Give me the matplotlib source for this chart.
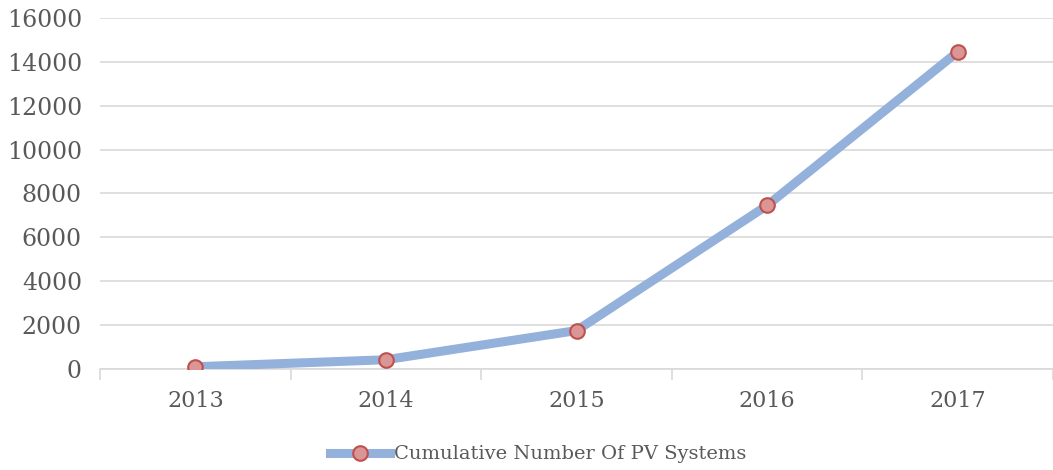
import matplotlib.pyplot as plt
from matplotlib.lines import Line2D

years = ["2013", "2014", "2015", "2016", "2017"]
pv_systems = [100, 420, 1750, 7450, 14450]
y_ticks = [0, 2000, 4000, 6000, 8000, 10000, 12000, 14000, 16000]

plt.rcParams["font.family"] = ["DejaVu Serif"]
text_color = "#595959"
line_color = "#93B1DA"

fig = plt.figure(figsize=(10.53, 4.70), dpi=100)
ax = fig.add_axes([0.095, 0.215, 0.905, 0.747])

xs = list(range(len(years)))
ax.plot(xs, pv_systems, color=line_color, linewidth=6.5, solid_capstyle="butt",
        marker="o", markersize=10.5, markerfacecolor="#D99694",
        markeredgecolor="#C0504D", markeredgewidth=1.5, zorder=3)

ax.set_xlim(-0.5, len(years) - 0.5)
ax.set_ylim(0, 16000)
ax.set_yticks(y_ticks)
ax.set_yticklabels([str(v) for v in y_ticks], fontsize=17, color=text_color)
ax.set_xticks(xs)
ax.set_xticklabels(years, fontsize=16, color=text_color)
ax.tick_params(axis="x", which="major", length=0, pad=15)
ax.set_xticks([x - 0.5 for x in range(len(years) + 1)], minor=True)
ax.tick_params(axis="x", which="minor", length=8, color="#D9D9D9", width=1.2)
ax.tick_params(axis="y", length=0, pad=13)

ax.grid(axis="y", color="#D9D9D9", linewidth=1.2)
ax.set_axisbelow(True)
for side in ["top", "right", "left"]:
    ax.spines[side].set_visible(False)
ax.spines["bottom"].set_color("#D9D9D9")
ax.spines["bottom"].set_linewidth(1.2)

handle = Line2D([], [], color=line_color, linewidth=6.5, marker="o", markersize=10.5,
                markerfacecolor="#D99694", markeredgecolor="#C0504D",
                markeredgewidth=1.5)
fig.legend([handle], ["Cumulative Number Of PV Systems"], loc="center",
           bbox_to_anchor=(0.511, 0.033), frameon=False, fontsize=14,
           labelcolor=text_color, handlelength=3.1, handletextpad=0.2)

fig.savefig("out.png", dpi=100)
